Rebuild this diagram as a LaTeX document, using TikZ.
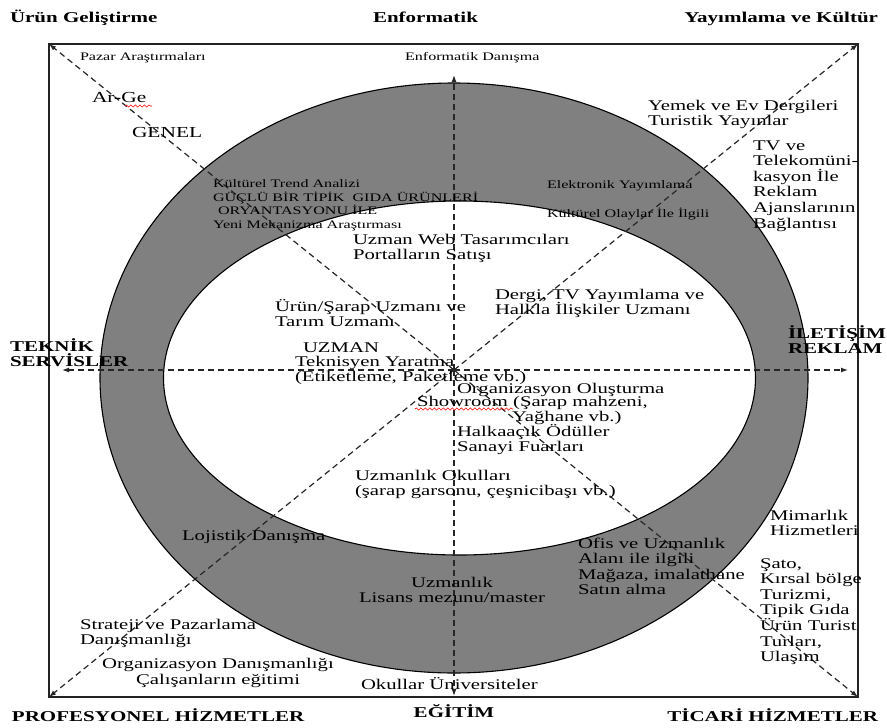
\documentclass[tikz,border=0pt]{standalone}
\usepackage{fontspec}
\setmainfont{Liberation Serif}[FakeStretch=1.4]
\usetikzlibrary{arrows.meta,decorations.pathmorphing}
\definecolor{bandgray}{RGB}{128,128,128}
\definecolor{framec}{RGB}{35,35,35}
\begin{document}
\begin{tikzpicture}[x=1pt,y=-1pt,
  lbl/.style={inner sep=0pt, outer sep=0pt, anchor=base west, align=left, font=\fontsize{14.8}{15.6}\selectfont},
  sm/.style={lbl, font=\fontsize{11.5}{13.4}\selectfont},
  hd/.style={inner sep=0pt, outer sep=0pt, anchor=base west, align=left, font=\fontsize{15}{15}\selectfont\bfseries},
  dline/.style={dashed, dash pattern=on 6pt off 4pt, line width=1.2pt, black!85},
  tip/.style={-{Latex[length=7pt,width=5pt]}},
  wavy/.style={red, line width=0.6pt, decorate, decoration={snake, amplitude=1.1pt, segment length=4.5pt}}
]
\useasboundingbox (0,0) rectangle (887,728);
\fill[white] (0,0) rectangle (887,728);

% frame
\coordinate (TL) at (49,44);
\coordinate (TR) at (858,44);
\coordinate (BR) at (858,697);
\coordinate (BL) at (49,697);
\draw[framec, line width=2pt] (TL) -- (TR) -- (BR) -- (BL) -- cycle;

% band
\fill[bandgray, even odd rule] (454,378) ellipse [x radius=354, y radius=295]
      (459.5,378) ellipse [x radius=296, y radius=177];
\draw[black, line width=1.1pt] (454,378) ellipse [x radius=354, y radius=295];
\draw[black, line width=1.1pt] (459.5,378) ellipse [x radius=296, y radius=177];

% axes
\coordinate (O) at (454,370);
\coordinate (T) at (454,75);
\coordinate (B) at (454,696);
\coordinate (L) at (62,370);
\coordinate (R) at (848,370);
\draw[dline, tip] (O) -- (T);
\draw[dline, tip] (O) -- (B);
\draw[dline, tip] (O) -- (L);
\draw[dline, tip] (O) -- (R);
\draw[dline, tip] (O) -- (TL);
\draw[dline, tip] (O) -- (TR);
\draw[dline, tip] (O) -- (BL);
\draw[dline, tip] (O) -- (BR);

% outside headings (multi-line nodes: coordinate = last baseline)
\node[hd] (h1) at (10,22) {Ürün Geliştirme};
\node[hd] (h2) at (373,22) {Enformatik};
\node[hd, anchor=base east] (h3) at (878,22) {Yayımlama ve Kültür};
\node[hd] (h4) at (10,366) {TEKNİK\\SERVİSLER};
\node[hd] (h5) at (788,353) {İLETİŞİM\\REKLAM};
\node[hd] (h6) at (12,721) {PROFESYONEL HİZMETLER};
\node[hd, anchor=base] (h7) at (454,717) {EĞİTİM};
\node[hd, anchor=base east] (h8) at (878,721) {TİCARİ HİZMETLER};

% inner texts
\node[sm] (pazar) at (80,60) {Pazar Araştırmaları};
\node[sm] (enfd) at (405,60) {Enformatik Danışma};
\node[lbl, font=\fontsize{15.3}{16}\selectfont] (arge) at (92,102) {Ar-Ge};
\node[lbl, font=\fontsize{15.3}{16}\selectfont] (genel) at (132,137) {GENEL};
\node[sm] (kult) at (213,228) {Kültürel Trend Analizi\\GÜÇLÜ BİR TİPİK\ \ GIDA ÜRÜNLERİ\\\hspace{5pt}ORYANTASYONU İLE\\Yeni Mekanizma Araştırması};
\node[sm] (elek) at (547,188) {Elektronik Yayımlama};
\node[sm] (olay) at (547,217) {Kültürel Olaylar İle İlgili};
\node[lbl] (yemek) at (648,125.6) {Yemek ve Ev Dergileri\\Turistik Yayınlar};
\node[lbl] (tv) at (753,228) {TV ve\\Telekomüni-\\kasyon İle\\Reklam\\Ajanslarının\\Bağlantısı};
\node[lbl] (web) at (353,259.6) {Uzman Web Tasarımcıları\\Portalların Satışı};
\node[lbl] (urun) at (275,326.6) {Ürün/Şarap Uzmanı ve\\Tarım Uzmanı};
\node[lbl] (dergi) at (495,314.6) {Dergi, TV Yayımlama ve\\Halkla İlişkiler Uzmanı};
\node[lbl] (uzman) at (303,352) {UZMAN};
\node[lbl] (tekn) at (295,381.6) {Teknisyen Yaratma\\(Etiketleme, Paketleme vb.)};
\node[lbl] (org) at (457,393) {Organizasyon Oluşturma};
\node[lbl] (show) at (417,406) {Showroom (Şarap mahzeni,};
\node[lbl] (yag) at (512,421) {Yağhane vb.)};
\node[lbl] (halk) at (457,451.6) {Halkaaçık Ödüller\\Sanayi Fuarları};
\node[lbl] (okul) at (355,495.6) {Uzmanlık Okulları\\(şarap garsonu, çeşnicibaşı vb.)};
\node[lbl] (loj) at (182,540) {Lojistik Danışma};
\node[lbl] (mimar) at (770,535.6) {Mimarlık\\Hizmetleri};
\node[lbl] (ofis) at (578,594.8) {Ofis ve Uzmanlık\\Alanı ile ilgili\\Mağaza, imalathane\\Satın alma};
\node[lbl] (sato) at (760,661.6) {Şato,\\Kırsal bölge\\Turizmi,\\Tipik Gıda\\Ürün Turist\\Turları,\\Ulaşım};
\node[lbl, align=center, anchor=base] (lis) at (452,602.6) {Uzmanlık\\Lisans mezunu/master};
\node[lbl] (strat) at (80,644.6) {Strateji ve Pazarlama\\Danışmanlığı};
\node[lbl, align=center, anchor=base] (orgd) at (218,684) {Organizasyon Danışmanlığı\\Çalışanların eğitimi};
\node[lbl] (okullar) at (361,689) {Okullar Üniversiteler};

% spell-check underlines
\coordinate (w1a) at (125,106); \coordinate (w1b) at (152,106);
\coordinate (w2a) at (415,409); \coordinate (w2b) at (513,409);
\draw[wavy] (w1a) -- (w1b);
\draw[wavy] (w2a) -- (w2b);
\end{tikzpicture}
\end{document}
